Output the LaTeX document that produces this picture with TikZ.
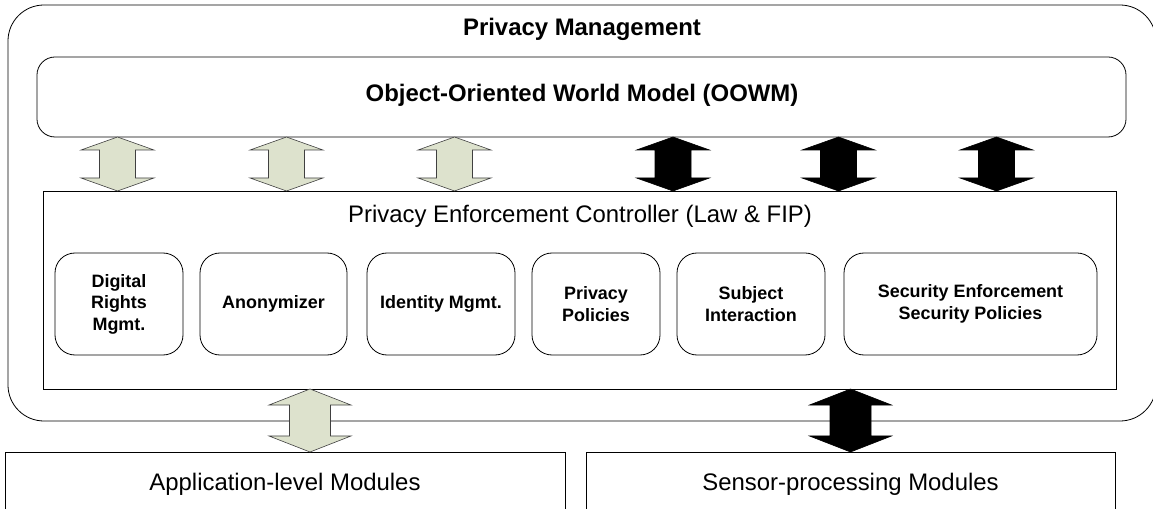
\documentclass[tikz,border=0pt]{standalone}
\usepackage{fontspec}
\setmainfont{Liberation Sans}
\usetikzlibrary{calc}
\definecolor{sage}{RGB}{221,226,205}
\newcommand\twowayarrow[6]{%
  \path[#1] let \p1=(#2), \p2=(#3) in
    (\x1,\y1) -- (\x1+#4bp,\y1-#6bp) -- (\x1+#5bp,\y1-#6bp) -- (\x2+#5bp,\y2+#6bp)
    -- (\x2+#4bp,\y2+#6bp) -- (\x2,\y2) -- (\x2-#4bp,\y2+#6bp) -- (\x2-#5bp,\y2+#6bp)
    -- (\x1-#5bp,\y1-#6bp) -- (\x1-#4bp,\y1-#6bp) -- cycle;}
\begin{document}
\begin{tikzpicture}[x=1bp,y=-1bp,
  frame/.style={draw, line width=0.8bp, inner sep=0pt, outer sep=0pt},
  roundframe/.style={frame, rounded corners=#1},
  bigtext/.style={font=\fontsize{24}{29}\selectfont, inner sep=0pt, anchor=base},
  bigbold/.style={bigtext, font=\fontsize{24}{29}\selectfont\bfseries},
  modbox/.style={roundframe=20bp, align=center, font=\fontsize{18}{21.5}\selectfont\bfseries},
  lightarrow/.style={draw=black!75, line width=0.6bp, fill=sage},
  darkarrow/.style={draw=black, line width=0.6bp, fill=black}]
\useasboundingbox (0,0) rectangle (1153,509);
\begin{scope}
\clip (0,0) rectangle (1153,509);
% outer privacy management frame
\node[roundframe=36bp, minimum width=1148bp, minimum height=416bp] (pm) at (582,213) {};
\node[bigbold] (pmt) at (582,35.5) {Privacy Management};
% OOWM
\node[roundframe=18bp, minimum width=1089bp, minimum height=80bp] (oowm) at (581.5,97) {};
\node[bigbold] (oowmt) at (582,102) {Object-Oriented World Model (OOWM)};
% controller
\node[frame, minimum width=1073bp, minimum height=198bp] (ctrl) at (579.5,290) {};
\node[bigtext] (ctrlt) at (580,222.5) {Privacy Enforcement Controller (Law \& FIP)};
% inner modules
\node[modbox, minimum width=128bp, minimum height=102bp] (drm) at (119,304) {Digital\\Rights\\Mgmt.};
\node[modbox, minimum width=147bp, minimum height=102bp] (anon) at (273.5,304) {Anonymizer};
\node[modbox, minimum width=148bp, minimum height=102bp] (idm) at (441,304) {Identity Mgmt.};
\node[modbox, minimum width=128bp, minimum height=102bp] (pp) at (596,304) {Privacy\\Policies};
\node[modbox, minimum width=148bp, minimum height=102bp] (si) at (751,304) {Subject\\Interaction};
\node[modbox, minimum width=253bp, minimum height=102bp] (sec) at (970.5,304) {Security Enforcement\\Security Policies};
% bottom modules
\node[frame, minimum width=560bp, minimum height=90bp] (app) at (285,497) {};
\node[bigtext] (appt) at (285,490) {Application-level Modules};
\node[frame, minimum width=529bp, minimum height=90bp] (sens) at (850.5,497) {};
\node[bigtext] (senst) at (850.5,490) {Sensor-processing Modules};
% arrow positions
\coordinate (u1) at (117.5,0);
\coordinate (u2) at (286.5,0);
\coordinate (u3) at (454.5,0);
\coordinate (u4) at (673,0);
\coordinate (u5) at (838.5,0);
\coordinate (u6) at (996.5,0);
\coordinate (d1) at (310,0);
\coordinate (d2) at (850.5,0);
\twowayarrow{lightarrow}{u1 |- oowm.south}{u1 |- ctrl.north}{36.5}{18}{13}
\twowayarrow{lightarrow}{u2 |- oowm.south}{u2 |- ctrl.north}{36.5}{18}{13}
\twowayarrow{lightarrow}{u3 |- oowm.south}{u3 |- ctrl.north}{36.5}{18}{13}
\twowayarrow{darkarrow}{u4 |- oowm.south}{u4 |- ctrl.north}{36.5}{18}{13}
\twowayarrow{darkarrow}{u5 |- oowm.south}{u5 |- ctrl.north}{36.5}{18}{13}
\twowayarrow{darkarrow}{u6 |- oowm.south}{u6 |- ctrl.north}{36.5}{18}{13}
\twowayarrow{lightarrow}{d1 |- ctrl.south}{d1 |- app.north}{41}{20.5}{16}
\twowayarrow{darkarrow}{d2 |- ctrl.south}{d2 |- sens.north}{41}{20.5}{16}
\end{scope}
\end{tikzpicture}
\end{document}
